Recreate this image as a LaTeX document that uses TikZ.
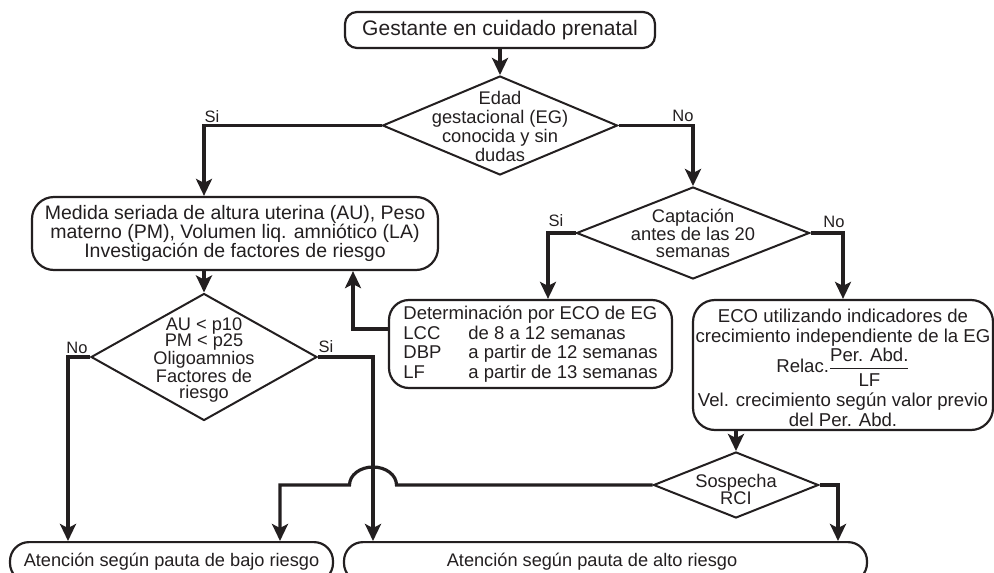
\documentclass[tikz,border=0pt]{standalone}
\usepackage{fontspec}
\setmainfont{Liberation Sans}
\usetikzlibrary{arrows.meta,shapes.geometric}
\definecolor{ink}{HTML}{231F20}
\begin{document}
\begin{tikzpicture}[x=1pt,y=-1pt,
  every node/.style={text=ink},
  txt/.style={font=\fontsize{18.4}{19}\selectfont, align=center, inner sep=0pt},
  box/.style={draw=ink, line width=2.2pt, rounded corners=#1, fill=white, inner sep=0pt, txt},
  box/.default=18pt,
  dia/.style={draw=ink, line width=2pt, diamond, inner sep=0pt, fill=white},
  conn/.style={draw=ink, line width=3.2pt, -{Stealth[length=17pt,width=16pt,inset=4pt]}},
  lbl/.style={font=\fontsize{16.5}{18}\selectfont, inner sep=0pt},
]
\useasboundingbox (0,0) rectangle (994,573);

% nodes
\node[box=12pt, minimum width=310pt, minimum height=36pt, font=\fontsize{21}{24}\selectfont] (n0) at (500,30) {Gestante en cuidado prenatal};

\node[dia, minimum width=235pt, minimum height=99pt] (d1) at (500,125.5) {};
\node[txt, font=\fontsize{18.3}{19}\selectfont] (d1t) at (500,126) {Edad\\gestacional (EG)\\conocida y sin\\dudas};

\node[box=22pt, minimum width=406pt, minimum height=73pt, font=\fontsize{19.5}{19}\selectfont] (b2) at (235,233.5) {Medida seriada de altura uterina (AU), Peso\\materno (PM), Volumen liq. amniótico (LA)\\Investigación de factores de riesgo};

\node[dia, minimum width=226pt, minimum height=127pt] (d3) at (204,357) {};
\node[txt, font=\fontsize{18.2}{16.5}\selectfont] (d3t) at (204,360) {AU < p10\\PM < p25\\Oligoamnios\\Factores de\\riesgo};

\node[dia, minimum width=233pt, minimum height=92pt] (d2) at (693,233) {};
\node[txt, font=\fontsize{18.3}{17}\selectfont] (d2t) at (693,233) {Captación\\antes de las 20\\semanas};

\node[box=20pt, minimum width=283pt, minimum height=88pt, align=left, font=\fontsize{18.5}{19.7}\selectfont] (b3) at (530.5,344) {Determinación por ECO de EG\\\makebox[65pt][l]{LCC}de 8 a 12 semanas\\\makebox[65pt][l]{DBP}a partir de 12 semanas\\\makebox[65pt][l]{LF}a partir de 13 semanas};

\node[box=22pt, minimum width=300pt, minimum height=130pt] (b4) at (843,365) {};
\node[txt, font=\fontsize{18.6}{20.5}\selectfont] (b4t) at (843,368) {ECO utilizando indicadores de\\crecimiento independiente de la EG\\Relac.$\displaystyle{\mbox{Per. Abd.}\above1.5pt\mbox{LF}}$\\[5pt]Vel. crecimiento según valor previo\\del Per. Abd.};

\node[dia, minimum width=165pt, minimum height=66pt] (d4) at (736,485) {};
\node[txt, font=\fontsize{18.3}{17}\selectfont] (d4t) at (736,489) {Sospecha\\RCI};

\node[box=19pt, anchor=north, minimum width=323pt, minimum height=40pt, font=\fontsize{18.2}{20}\selectfont] (b5) at (171.5,541) {Atención según pauta de bajo riesgo};
\node[box=19pt, anchor=north, minimum width=523pt, minimum height=40pt, font=\fontsize{18.2}{20}\selectfont] (b6) at (605.5,541) {Atención según pauta de alto riesgo\hspace*{27pt}};

% helper coordinates
\coordinate (sx) at ([xshift=-232.5pt]b6.north);
\coordinate (bx) at ([xshift=108.5pt]b5.north);
\coordinate (nx) at ([xshift=-103.5pt]b5.north);
\coordinate (rx) at ([xshift=232.5pt]b6.north);
\coordinate (j) at (d4.west -| sx);

% connectors
\draw[conn] (n0.south) -- (d1.north);
\draw[conn] (d1.west) -| (b2.north -| d3.north);
\draw[conn] (d1.east) -| (d2.north);
\draw[conn] (b2.south -| d3.north) -- (d3.north);
\draw[conn] (d2.west) -| ([xshift=17.5pt]b3.north);
\draw[conn] (d2.east) -| (b4.north);
\draw[conn] ([yshift=15pt]b3.west) -| ([xshift=118pt]b2.south);
\draw[conn] (d3.west) -| (nx);
\draw[conn] (d3.east) -| (sx);
\draw[conn] (d4.north |- b4.south) -- (d4.north);
\draw[conn] (d4.west) -- ([xshift=23.5pt]j) arc[start angle=0, end angle=180, x radius=23.5pt, y radius=18pt] -| (bx);
\draw[conn] (d4.east) -| (rx);

% labels
\node[lbl] (l1) at (212,117) {Si};
\node[lbl] (l2) at (683,116) {No};
\node[lbl] (l3) at (556,221) {Si};
\node[lbl] (l4) at (834,222) {No};
\node[lbl] (l5) at (77,348) {No};
\node[lbl] (l6) at (326,347) {Si};
\end{tikzpicture}
\end{document}
